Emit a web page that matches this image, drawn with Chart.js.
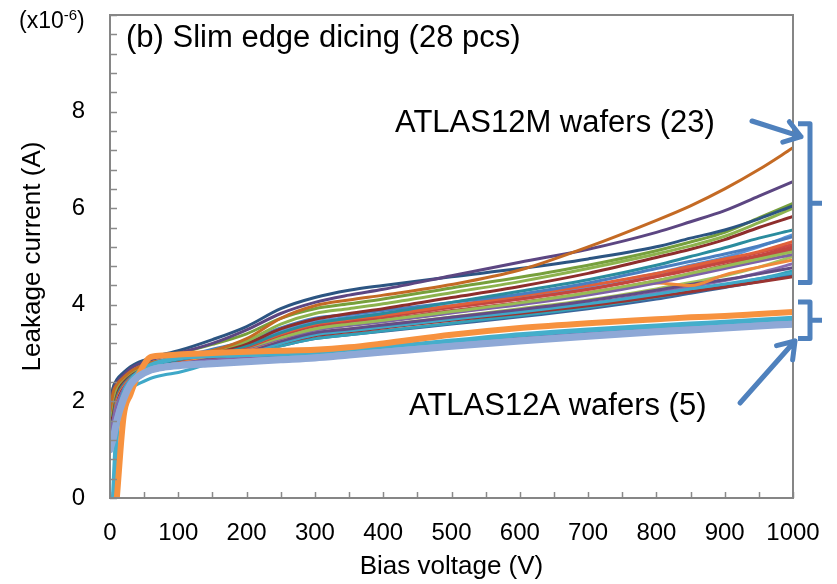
<!DOCTYPE html>
<html>
<head>
<meta charset="utf-8">
<script src="https://cdn.jsdelivr.net/npm/chart.js@4.4.1/dist/chart.umd.min.js"></script>
<style>
  html, body { margin: 0; padding: 0; background: #fff; }
  canvas { display: block; }
</style>
</head>
<body>
<canvas id="my-chart" width="837" height="584"></canvas>
<script>
// bias voltage (V) where the currents were read
const voltages = [0, 5, 10, 20, 30, 40, 60, 80, 100, 150, 200, 250, 300, 350, 400, 500, 600, 700, 800, 850, 900, 950, 1000];

// ATLAS12A wafers (5), leakage current in units of 1e-6 A
const a12_blueGray1 = [1.0, 1.25, 1.6, 2.05, 2.35, 2.5, 2.65, 2.71, 2.74, 2.78, 2.82, 2.86, 2.9, 2.96, 3.02, 3.14, 3.25, 3.35, 3.44, 3.48, 3.52, 3.56, 3.6];
const a12_blueGray2 = [1.05, 1.3, 1.65, 2.1, 2.38, 2.52, 2.67, 2.73, 2.76, 2.8, 2.84, 2.88, 2.92, 2.98, 3.04, 3.16, 3.27, 3.37, 3.46, 3.5, 3.54, 3.58, 3.62];
const a12_orange = [null, null, 0, 1.7, 2.15, 2.5, 2.92, 2.95, 2.97, 3.0, 3.03, 3.05, 3.07, 3.12, 3.2, 3.38, 3.52, 3.62, 3.7, 3.74, 3.77, 3.81, 3.85];
const a12_cyan = [null, 0, 1.4, 2.15, 2.42, 2.58, 2.75, 2.84, 2.9, 2.95, 2.97, 2.98, 3.0, 3.06, 3.12, 3.25, 3.38, 3.48, 3.56, 3.6, 3.64, 3.68, 3.72];
const a12_purple = [1.2, 1.6, 1.9, 2.25, 2.45, 2.55, 2.68, 2.74, 2.78, 2.85, 2.89, 2.92, 2.96, 3.02, 3.08, 3.2, 3.31, 3.41, 3.5, 3.54, 3.58, 3.62, 3.66];

// ATLAS12M wafers (23)
const m01 = [1.8, 2.2, 2.35, 2.5, 2.62, 2.7, 2.8, 2.86, 2.92, 3.05, 3.3, 3.72, 3.98, 4.1, 4.2, 4.42, 4.72, 5.2, 5.75, 6.05, 6.4, 6.8, 7.25];
const m02 = [1.9, 2.25, 2.4, 2.55, 2.68, 2.76, 2.86, 2.94, 3.0, 3.2, 3.48, 3.82, 4.05, 4.2, 4.32, 4.6, 4.88, 5.15, 5.5, 5.72, 5.95, 6.25, 6.55];
const m03 = [2.0, 2.3, 2.45, 2.6, 2.72, 2.8, 2.9, 2.98, 3.05, 3.28, 3.55, 3.92, 4.15, 4.3, 4.4, 4.58, 4.75, 4.95, 5.2, 5.38, 5.55, 5.78, 6.05];
const m04 = [1.9, 2.3, 2.42, 2.58, 2.7, 2.78, 2.88, 2.95, 3.0, 3.18, 3.4, 3.72, 3.92, 4.02, 4.12, 4.35, 4.57, 4.82, 5.12, 5.3, 5.5, 5.8, 6.1];
const m05 = [1.7, 2.1, 2.3, 2.48, 2.6, 2.68, 2.78, 2.85, 2.9, 3.05, 3.25, 3.6, 3.82, 3.92, 4.02, 4.25, 4.48, 4.75, 5.05, 5.22, 5.42, 5.7, 6.0];
const m06 = [1.6, 2.05, 2.25, 2.45, 2.58, 2.66, 2.76, 2.83, 2.88, 3.02, 3.2, 3.5, 3.7, 3.82, 3.92, 4.15, 4.38, 4.65, 4.98, 5.15, 5.35, 5.6, 5.83];
const m07 = [1.5, 2.0, 2.2, 2.42, 2.55, 2.64, 2.74, 2.8, 2.86, 3.0, 3.15, 3.42, 3.62, 3.72, 3.82, 4.05, 4.28, 4.52, 4.82, 5.0, 5.18, 5.38, 5.55];
const m08 = [1.8, 2.15, 2.32, 2.5, 2.62, 2.7, 2.8, 2.87, 2.92, 3.08, 3.25, 3.52, 3.72, 3.8, 3.88, 4.05, 4.22, 4.45, 4.75, 4.9, 5.05, 5.22, 5.41];
const m09 = [1.55, 2.0, 2.2, 2.4, 2.55, 2.64, 2.74, 2.8, 2.86, 3.0, 3.15, 3.4, 3.6, 3.7, 3.78, 3.98, 4.18, 4.4, 4.65, 4.8, 4.95, 5.1, 5.31];
const m10 = [1.5, 1.95, 2.18, 2.4, 2.54, 2.63, 2.73, 2.8, 2.85, 2.98, 3.12, 3.38, 3.58, 3.67, 3.75, 3.95, 4.12, 4.32, 4.58, 4.72, 4.88, 5.02, 5.2];
const m11 = [1.6, 2.0, 2.2, 2.42, 2.56, 2.65, 2.75, 2.82, 2.87, 3.0, 3.12, 3.32, 3.5, 3.6, 3.68, 3.86, 4.04, 4.25, 4.5, 4.65, 4.8, 4.95, 5.1];
const m12 = [1.7, 2.05, 2.25, 2.45, 2.58, 2.66, 2.76, 2.82, 2.87, 3.0, 3.1, 3.3, 3.48, 3.57, 3.65, 3.83, 4.0, 4.2, 4.45, 4.6, 4.75, 4.9, 5.04];
const m13 = [1.4, 1.9, 2.15, 2.38, 2.52, 2.6, 2.7, 2.77, 2.82, 2.95, 3.08, 3.3, 3.5, 3.58, 3.66, 3.84, 4.02, 4.22, 4.45, 4.4, 4.62, 4.78, 4.93];
const m14 = [1.5, 1.95, 2.15, 2.38, 2.52, 2.6, 2.7, 2.76, 2.81, 2.93, 3.05, 3.25, 3.42, 3.5, 3.58, 3.74, 3.9, 4.08, 4.3, 4.42, 4.52, 4.64, 4.77];
const m15 = [1.3, 1.7, 1.95, 2.15, 2.28, 2.35, 2.48, 2.55, 2.6, 2.8, 2.98, 3.2, 3.38, 3.46, 3.54, 3.7, 3.85, 4.02, 4.22, 4.33, 4.43, 4.54, 4.66];
const m16 = [1.4, 1.85, 2.1, 2.35, 2.48, 2.56, 2.66, 2.72, 2.78, 2.9, 3.02, 3.2, 3.36, 3.44, 3.52, 3.68, 3.82, 3.98, 4.17, 4.27, 4.37, 4.47, 4.58];
const m17 = [1.6, 2.0, 2.22, 2.44, 2.57, 2.65, 2.75, 2.82, 2.87, 3.02, 3.18, 3.45, 3.65, 3.74, 3.82, 3.98, 4.16, 4.38, 4.65, 4.82, 4.98, 5.2, 5.45];
const m18 = [1.5, 1.95, 2.18, 2.42, 2.55, 2.63, 2.73, 2.8, 2.85, 2.98, 3.13, 3.4, 3.6, 3.68, 3.76, 3.95, 4.12, 4.32, 4.6, 4.76, 4.92, 5.08, 5.25];
const m19 = [1.6, 2.0, 2.2, 2.4, 2.52, 2.6, 2.7, 2.77, 2.82, 2.95, 3.06, 3.25, 3.42, 3.5, 3.58, 3.75, 3.92, 4.1, 4.33, 4.46, 4.6, 4.78, 5.0];
const m20 = [1.5, 1.9, 2.12, 2.36, 2.5, 2.58, 2.68, 2.75, 2.8, 2.92, 3.03, 3.22, 3.38, 3.46, 3.54, 3.7, 3.86, 4.02, 4.25, 4.37, 4.5, 4.66, 4.85];
const m21 = [1.4, 1.8, 2.05, 2.3, 2.44, 2.52, 2.62, 2.68, 2.73, 2.86, 2.98, 3.15, 3.3, 3.38, 3.46, 3.62, 3.78, 3.95, 4.16, 4.28, 4.4, 4.54, 4.7];
const m22 = [1.45, 1.85, 2.1, 2.35, 2.48, 2.56, 2.65, 2.72, 2.77, 2.9, 3.0, 3.15, 3.3, 3.38, 3.45, 3.6, 3.75, 3.92, 4.12, 4.24, 4.36, 4.48, 4.62];
const m23 = [1.55, 1.95, 2.2, 2.42, 2.55, 2.63, 2.72, 2.79, 2.84, 2.97, 3.1, 3.35, 3.55, 3.63, 3.7, 3.88, 4.05, 4.25, 4.5, 4.65, 4.82, 4.98, 5.15];

const xTicks = [0, 100, 200, 300, 400, 500, 600, 700, 800, 900, 1000];
const yTicks = [0, 2, 4, 6, 8];

const toPoints = (vals) => voltages.map((v, i) => ({ x: v, y: vals[i] }));

// thick ATLAS12A lines first so they end up drawn on top
const thick = [
  { vals: a12_blueGray1, color: "#8EA8D6", width: 7 },
  { vals: a12_blueGray2, color: "#94AEDA", width: 5 },
  { vals: a12_orange, color: "#F7923F", width: 6 },
  { vals: a12_cyan, color: "#45AECB", width: 5 },
  { vals: a12_purple, color: "#8366AA", width: 3.5 },
];

const thin = [
  [m01, "#C46A24"], [m02, "#5C4682"], [m03, "#2C5582"], [m04, "#77A03C"],
  [m05, "#8DB34E"], [m06, "#8E2E2C"], [m07, "#2A8C9E"], [m08, "#4A7FC0"],
  [m09, "#E0603A"], [m10, "#C4463F"], [m11, "#98BC55"], [m12, "#7E62A6"],
  [m13, "#F08A3A"], [m14, "#634C85"], [m15, "#3FA8C8"], [m16, "#9A3431"],
  [m17, "#5A93D8"], [m18, "#CF4A45"], [m19, "#A5C35F"], [m20, "#8A6DB0"],
  [m21, "#35A1B8"], [m22, "#3A659C"], [m23, "#BA4A47"],
];

const datasets = [];
thick.forEach((s) => {
  datasets.push({ data: toPoints(s.vals), borderColor: s.color, borderWidth: s.width });
});
thin.forEach(([vals, color]) => {
  datasets.push({ data: toPoints(vals), borderColor: color, borderWidth: 3 });
});

const FONT = "'Liberation Sans', Arial, sans-serif";
const ANNOT = "#4F81BD";

// no extra room for half tick labels, the plot box is fixed by layout padding
const noEdgePadding = (s) => {
  s.paddingTop = 0;
  s.paddingBottom = 0;
  s.paddingLeft = 0;
  s.paddingRight = 0;
};

// frame, inward ticks and the annotations
const decorations = {
  id: "decorations",
  afterDraw(chart) {
    const { ctx, chartArea: a } = chart;
    const xS = chart.scales.x, yS = chart.scales.y;
    ctx.save();

    // ticks
    ctx.strokeStyle = "#8a8a8a";
    ctx.lineWidth = 1.5;
    ctx.beginPath();
    for (let i = 0; i <= 25; i++) {
      const py = Math.round(yS.getPixelForValue(i * 0.4)) + 0.5;
      ctx.moveTo(a.left, py);
      ctx.lineTo(a.left + 7, py);
    }
    for (let i = 0; i <= 20; i++) {
      const px = Math.round(xS.getPixelForValue(i * 50)) + 0.5;
      ctx.moveTo(px, a.bottom);
      ctx.lineTo(px, a.bottom - 6);
    }
    ctx.stroke();

    // frame
    ctx.strokeStyle = "#868686";
    ctx.lineWidth = 2;
    ctx.strokeRect(a.left, a.top, a.right - a.left, a.bottom - a.top);

    // texts
    ctx.fillStyle = "#000";
    ctx.textBaseline = "alphabetic";
    ctx.textAlign = "left";
    ctx.font = "23px " + FONT;
    ctx.fillText("(x10", 19, 28);
    const w = ctx.measureText("(x10").width;
    ctx.font = "15px " + FONT;
    ctx.fillText("-6", 19 + w, 20);
    const w2 = ctx.measureText("-6").width;
    ctx.font = "23px " + FONT;
    ctx.fillText(")", 19 + w + w2, 28);

    ctx.font = "31px " + FONT;
    ctx.fillText("(b) Slim edge dicing (28 pcs)", a.left + 16, 47);
    ctx.fillText("ATLAS12M wafers (23)", 395, 132);
    ctx.fillText("ATLAS12A wafers (5)", 409, 415);

    // brackets
    ctx.strokeStyle = ANNOT;
    ctx.lineWidth = 5;
    ctx.lineJoin = "round";
    ctx.lineCap = "butt";
    const bx = a.right + 17;
    const bracket = (vTop, vBot) => {
      const t = yS.getPixelForValue(vTop), b = yS.getPixelForValue(vBot);
      const m = (t + b) / 2;
      ctx.beginPath();
      ctx.moveTo(bx - 12, t);
      ctx.lineTo(bx, t);
      ctx.lineTo(bx, b);
      ctx.lineTo(bx - 12, b);
      ctx.moveTo(bx, m);
      ctx.lineTo(bx + 12, m);
      ctx.stroke();
    };
    bracket(7.75, 4.46);
    bracket(4.06, 3.3);

    // arrows
    const arrow = (x0, y0, x1, y1) => {
      const ang = Math.atan2(y1 - y0, x1 - x0);
      const hl = 19, spread = 0.6;
      ctx.beginPath();
      ctx.moveTo(x0, y0);
      ctx.lineTo(x1, y1);
      ctx.moveTo(x1 - hl * Math.cos(ang - spread), y1 - hl * Math.sin(ang - spread));
      ctx.lineTo(x1, y1);
      ctx.lineTo(x1 - hl * Math.cos(ang + spread), y1 - hl * Math.sin(ang + spread));
      ctx.stroke();
    };
    ctx.lineCap = "round";
    arrow(752, 121, a.right + 8, yS.getPixelForValue(7.48));
    arrow(740, 403, a.right + 2, yS.getPixelForValue(3.25));

    ctx.restore();
  },
};

const config = {
  type: "line",
  data: { datasets: datasets },
  options: {
    responsive: false,
    animation: false,
    devicePixelRatio: 1,
    layout: { padding: { left: 0, top: 15, right: 44, bottom: 0 } },
    elements: {
      point: { radius: 0, hoverRadius: 0 },
      line: { cubicInterpolationMode: "monotone", borderCapStyle: "round", borderJoinStyle: "round" },
    },
    plugins: {
      legend: { display: false },
      tooltip: { enabled: false },
    },
    scales: {
      x: {
        type: "linear",
        min: 0,
        max: 1000,
        afterFit: (s) => { s.height = 86; noEdgePadding(s); },
        afterBuildTicks: (s) => { s.ticks = xTicks.map((v) => ({ value: v })); },
        grid: { display: false },
        border: { display: false },
        ticks: {
          padding: 13,
          color: "#000",
          font: { family: FONT, size: 24 },
          maxRotation: 0,
          callback: (v) => String(v),
        },
        title: {
          display: true,
          text: "Bias voltage (V)",
          color: "#000",
          font: { family: FONT, size: 26 },
          padding: { top: 0, bottom: 2 },
        },
      },
      y: {
        min: 0,
        max: 10,
        afterFit: (s) => { s.width = 110; noEdgePadding(s); },
        afterBuildTicks: (s) => { s.ticks = yTicks.map((v) => ({ value: v })); },
        grid: { display: false },
        border: { display: false },
        ticks: {
          padding: 17,
          color: "#000",
          font: { family: FONT, size: 24 },
        },
        title: {
          display: true,
          text: "Leakage current (A)",
          color: "#000",
          font: { family: FONT, size: 26 },
          padding: { top: 17, bottom: 0 },
        },
      },
    },
  },
  plugins: [decorations],
};

const myChart = new Chart(document.getElementById("my-chart"), config);
</script>
</body>
</html>
